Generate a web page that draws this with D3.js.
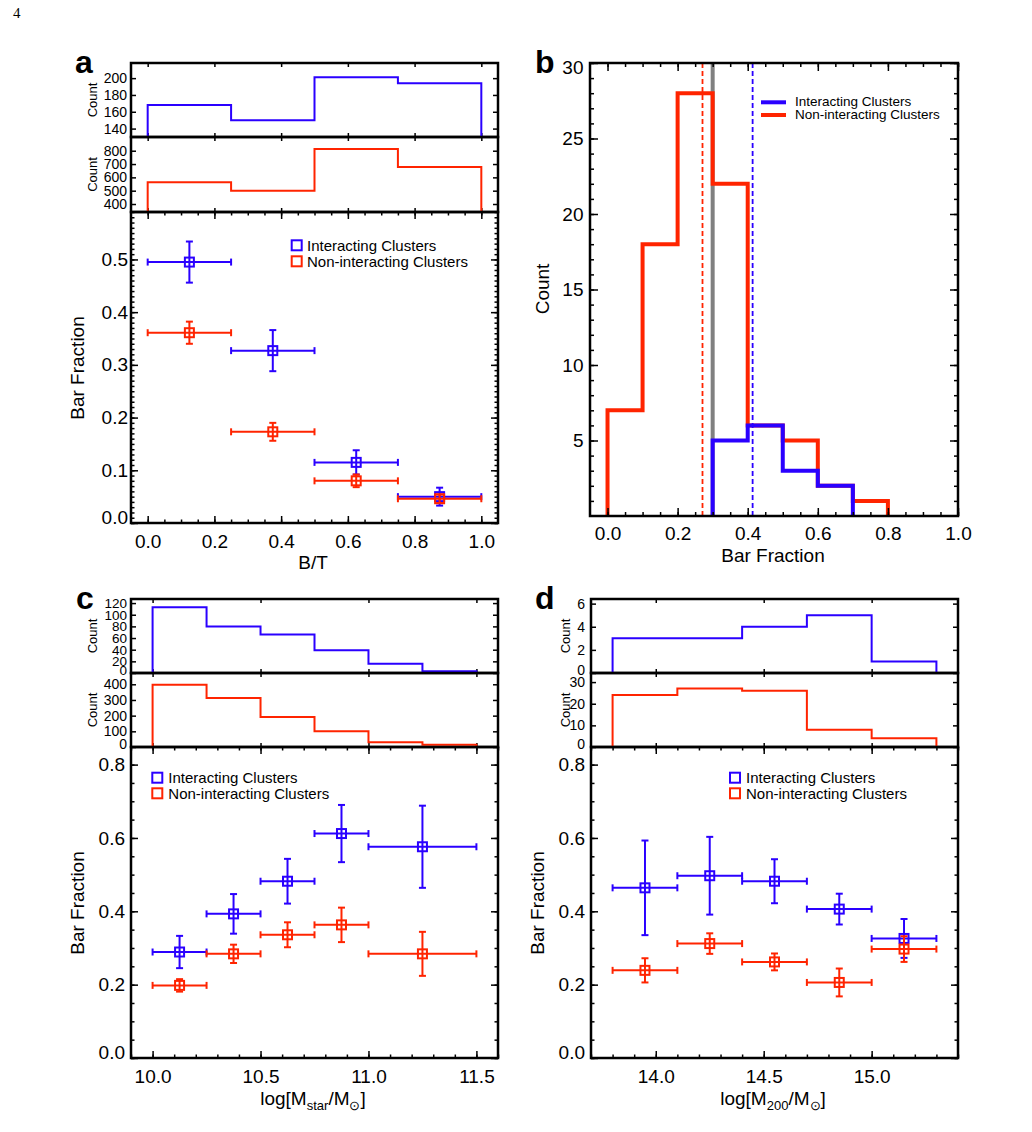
<!DOCTYPE html>
<html>
<head>
<meta charset="utf-8">
<script src="https://cdn.jsdelivr.net/npm/d3@7"></script>
<style>
  body { margin: 0; background: #fff; }
  svg { display: block; }
</style>
</head>
<body>
<div id="chart"></div>
<script>
// ---- panel a : bar fraction vs B/T
const btEdges = [0, 0.25, 0.5, 0.75, 1.0]
const btCountInt = [168, 150, 201, 194]
const btCountNon = [563, 500, 812, 677]
const btFracInt = [0.495, 0.327, 0.115, 0.050]
const btErrInt = [0.039, 0.039, 0.023, 0.017]
const btFracNon = [0.361, 0.173, 0.080, 0.046]
const btErrNon = [0.021, 0.017, 0.012, 0.008]

// ---- panel b : distribution of cluster bar fractions
const bfEdgesNon = [0, 0.1, 0.2, 0.3, 0.4, 0.5, 0.6, 0.7, 0.8]
const bfCountNon = [7, 18, 28, 22, 6, 5, 2, 1]
const bfEdgesInt = [0.3, 0.4, 0.5, 0.6, 0.7]
const bfCountInt = [5, 6, 3, 2]
const bfMeanNon = 0.271
const bfMeanInt = 0.414
const bfRef = 0.3

// ---- panel c : bar fraction vs stellar mass
const msEdges = [10.0, 10.25, 10.5, 10.75, 11.0, 11.25, 11.5]
const msCountInt = [113, 80, 66, 39, 16, 3]
const msCountNon = [397, 313, 191, 100, 30, 15]
const msBinLo = [10.0, 10.25, 10.5, 10.75, 11.0]
const msBinHi = [10.25, 10.5, 10.75, 11.0, 11.5]
const msFracInt = [0.289, 0.393, 0.482, 0.612, 0.576]
const msErrInt = [0.044, 0.054, 0.061, 0.078, 0.112]
const msFracNon = [0.198, 0.284, 0.336, 0.363, 0.284]
const msErrNon = [0.017, 0.025, 0.034, 0.047, 0.060]

// ---- panel d : bar fraction vs halo mass
const mhEdges = [13.8, 14.1, 14.4, 14.7, 15.0, 15.3]
const mhCountInt = [3, 3, 4, 5, 1]
const mhCountNon = [24, 27, 26, 8, 4]
const mhFracInt = [0.464, 0.497, 0.482, 0.406, 0.326]
const mhErrInt = [0.129, 0.106, 0.060, 0.042, 0.053]
const mhFracNon = [0.239, 0.312, 0.262, 0.206, 0.297]
const mhErrNon = [0.033, 0.028, 0.023, 0.038, 0.035]

const legendNames = ["Interacting Clusters", "Non-interacting Clusters"]

const blue = "#2a00ff"
const red = "#ff2400"
const FONT = "'Liberation Sans', Arial, Helvetica, sans-serif"

const svg = d3.select("#chart").append("svg")
  .attr("width", 1032).attr("height", 1132)
  .style("font-family", FONT)

svg.append("text")
  .attr("x", 13).attr("y", 18)
  .attr("font-family", "'Liberation Serif', 'DejaVu Serif', serif")
  .attr("font-size", 15)
  .text("4")

function steps(start, stop, step) {
  const n = Math.round((stop - start) / step)
  return d3.range(n + 1).map(i => +(start + i * step).toFixed(6))
}

function tidy(sel, size) {
  sel.attr("font-family", null).attr("font-size", null)
  sel.select(".domain").remove()
  sel.selectAll(".tick line").attr("stroke", "#000").attr("stroke-width", 1.5)
  sel.selectAll(".tick text").attr("font-size", size).attr("fill", "#000")
}

function axis(g, gen, values, len, fmt, pad, size, tx, ty) {
  const a = g.append("g")
    .attr("transform", `translate(${tx},${ty})`)
    .call(gen.tickValues(values).tickSize(-len).tickPadding(pad || 0).tickFormat(fmt || (() => "")))
  tidy(a, size || 10)
  return a
}

function box(g, x, y, o) {
  const [x0, x1] = x.range()
  const [y1, y0] = y.range()
  if (o.xMinor) {
    axis(g, d3.axisBottom(x), o.xMinor, o.minLen, null, 0, 0, 0, y1)
    axis(g, d3.axisTop(x), o.xMinor, o.minLen, null, 0, 0, 0, y0)
  }
  if (o.yMinor) {
    axis(g, d3.axisLeft(y), o.yMinor, o.minLen, null, 0, 0, x0, 0)
    axis(g, d3.axisRight(y), o.yMinor, o.minLen, null, 0, 0, x1, 0)
  }
  const xa = axis(g, d3.axisBottom(x), o.xMajor, o.majLen, o.xFmt, o.xPad, o.size, 0, y1)
  axis(g, d3.axisTop(x), o.xMajor, o.majLen, null, 0, 0, 0, y0)
  const ya = axis(g, d3.axisLeft(y), o.yMajor, o.yLen || o.majLen, o.yFmt, o.yPad, o.size, x0, 0)
  axis(g, d3.axisRight(y), o.yMajor, o.yLen || o.majLen, null, 0, 0, x1, 0)
  g.append("rect")
    .attr("x", x0).attr("y", y0)
    .attr("width", x1 - x0).attr("height", y1 - y0)
    .attr("fill", "none").attr("stroke", "#000").attr("stroke-width", 2.5)
  return { xa, ya }
}

function vText(g, cx, cy, size, txt) {
  g.append("text")
    .attr("transform", `translate(${cx},${cy}) rotate(-90)`)
    .attr("text-anchor", "middle")
    .attr("dominant-baseline", "central")
    .attr("font-size", size)
    .text(txt)
}

function panelLetter(x, y, txt) {
  svg.append("text")
    .attr("x", x).attr("y", y)
    .attr("font-size", 32).attr("font-weight", "bold")
    .text(txt)
}

// step histogram through d3.line + curveStepAfter
function histPath(g, x, y, edges, counts, color, width, pad) {
  const base = y.domain()[0]
  const pts = [[edges[0], base]]
  counts.forEach((c, i) => pts.push([edges[i], c]))
  pts.push([edges[edges.length - 1], counts[counts.length - 1]])
  pts.push([edges[edges.length - 1], base])
  if (pad) {
    pts.unshift([x.domain()[0], base])
    pts.push([x.domain()[1], base])
  }
  g.append("path")
    .datum(pts)
    .attr("fill", "none")
    .attr("stroke", color)
    .attr("stroke-width", width)
    .attr("stroke-linejoin", "miter")
    .attr("d", d3.line().curve(d3.curveStepAfter).x(d => x(d[0])).y(d => y(d[1])))
}

function histBox(g, x, top, bottom, yDomain, yTicks, edges, counts, color, o) {
  const y = d3.scaleLinear().domain(yDomain).range([bottom, top])
  const r = box(g, x, y, {
    xMajor: o.xMajor, majLen: 4, yLen: 5,
    yMajor: yTicks, yFmt: d3.format("d"), yPad: o.yPad, size: o.size || 14
  })
  r.ya.selectAll(".tick").filter(d => d === yDomain[0]).select("text").attr("y", -3)
  histPath(g, x, y, edges, counts, color, 2, o.pad)
  vText(g, o.countX, (top + bottom) / 2, 13, "Count")
}

function errorPoints(g, x, y, lo, hi, frac, err, color) {
  const pts = frac.map((v, i) => ({ lo: lo[i], hi: hi[i], mid: (lo[i] + hi[i]) / 2, v, e: err[i] }))
  const cap = 3.5
  const s = g.append("g").attr("stroke", color).attr("stroke-width", 2).attr("fill", "none")
  s.selectAll(null).data(pts).join("line")
    .attr("x1", d => x(d.lo)).attr("x2", d => x(d.hi))
    .attr("y1", d => y(d.v)).attr("y2", d => y(d.v))
  s.selectAll(null).data(pts.flatMap(d => [[d.lo, d.v], [d.hi, d.v]])).join("line")
    .attr("x1", d => x(d[0])).attr("x2", d => x(d[0]))
    .attr("y1", d => y(d[1]) - cap).attr("y2", d => y(d[1]) + cap)
  s.selectAll(null).data(pts).join("line")
    .attr("x1", d => x(d.mid)).attr("x2", d => x(d.mid))
    .attr("y1", d => y(d.v - d.e)).attr("y2", d => y(d.v + d.e))
  s.selectAll(null).data(pts.flatMap(d => [[d.mid, d.v - d.e], [d.mid, d.v + d.e]])).join("line")
    .attr("x1", d => x(d[0]) - cap).attr("x2", d => x(d[0]) + cap)
    .attr("y1", d => y(d[1])).attr("y2", d => y(d[1]))
  s.selectAll(null).data(pts).join("rect")
    .attr("x", d => x(d.mid) - 4.5).attr("y", d => y(d.v) - 4.5)
    .attr("width", 9).attr("height", 9)
}

function squareLegend(g, sx, tx, ys) {
  [blue, red].forEach((c, i) => {
    g.append("rect")
      .attr("x", sx - 5).attr("y", ys[i] - 5)
      .attr("width", 10).attr("height", 10)
      .attr("fill", "none").attr("stroke", c).attr("stroke-width", 2)
    g.append("text")
      .attr("x", tx).attr("y", ys[i])
      .attr("dominant-baseline", "central")
      .attr("font-size", 15)
      .text(legendNames[i])
  })
}

function massLabel(g, cx, baseline, sub) {
  const t = g.append("text")
    .attr("x", cx).attr("y", baseline)
    .attr("text-anchor", "middle")
    .attr("font-size", 19)
  t.append("tspan").text("log[M")
  t.append("tspan").attr("font-size", 13).attr("dy", 5).text(sub)
  t.append("tspan").attr("dy", -5).text("/M")
  t.append("tspan").attr("font-size", 13).attr("dy", 5).text("\u2299")
  t.append("tspan").attr("dy", -5).text("]")
}

// ================= panel a =================
{
  const g = svg.append("g")
  const L = 131, R = 498
  const x = d3.scaleLinear().domain([-0.05, 1.05]).range([L, R])
  const xMajor = steps(0, 1, 0.2)
  histBox(g, x, 63, 137, [130, 218], [140, 160, 180, 200], btEdges, btCountInt, blue,
    { xMajor, yPad: 4, countX: 92, pad: false })
  histBox(g, x, 137, 212, [340, 903], [400, 500, 600, 700, 800], btEdges, btCountNon, red,
    { xMajor, yPad: 4, countX: 92, pad: false })

  const y = d3.scaleLinear().domain([0, 0.59]).range([523, 212])
  const r = box(g, x, y, {
    xMajor, xMinor: steps(0, 1, 0.05), yMajor: steps(0, 0.5, 0.1), yMinor: steps(0, 0.59, 0.01),
    majLen: 7, minLen: 3.5, xFmt: d3.format(".1f"), yFmt: d3.format(".1f"),
    xPad: 12, yPad: 3, size: 19
  })
  r.ya.selectAll(".tick").filter(d => d === 0).select("text").attr("y", -6)
  const mid = btEdges.slice(1)
  errorPoints(g, x, y, btEdges.slice(0, -1), mid, btFracInt, btErrInt, blue)
  errorPoints(g, x, y, btEdges.slice(0, -1), mid, btFracNon, btErrNon, red)
  squareLegend(g, 296.7, 307, [245.3, 261.3])
  vText(g, 77, 368, 19, "Bar Fraction")
  g.append("text").attr("x", 313).attr("y", 568.5).attr("text-anchor", "middle")
    .attr("font-size", 19).text("B/T")
  panelLetter(75, 73, "a")
}

// ================= panel b =================
{
  const g = svg.append("g")
  const x = d3.scaleLinear().domain([-0.05, 1.0]).range([590, 958])
  const y = d3.scaleLinear().domain([0, 30]).range([516, 63])
  g.append("line")
    .attr("x1", x(bfRef)).attr("x2", x(bfRef))
    .attr("y1", y(0)).attr("y2", y(30))
    .attr("stroke", "#808080").attr("stroke-width", 4)
  histPath(g, x, y, bfEdgesNon, bfCountNon, red, 4, false)
  histPath(g, x, y, bfEdgesInt, bfCountInt, blue, 4, false)
  ;[[bfMeanNon, red], [bfMeanInt, blue]].forEach(([m, c]) => {
    g.append("line")
      .attr("x1", x(m)).attr("x2", x(m))
      .attr("y1", y(0)).attr("y2", y(30))
      .attr("stroke", c).attr("stroke-width", 1.8)
      .attr("stroke-dasharray", "5,3")
  })
  const r = box(g, x, y, {
    xMajor: steps(0, 1, 0.2), xMinor: steps(0, 1, 0.05),
    yMajor: steps(5, 30, 5), yMinor: steps(1, 30, 1),
    majLen: 8, minLen: 4, xFmt: d3.format(".1f"), yFmt: d3.format("d"),
    xPad: 10.5, yPad: 6.5, size: 19
  })
  r.ya.selectAll(".tick").filter(d => d === 30).select("text").attr("y", 4)
  ;[blue, red].forEach((c, i) => {
    const ly = [102.3, 115][i]
    g.append("line")
      .attr("x1", 761).attr("x2", 786).attr("y1", ly).attr("y2", ly)
      .attr("stroke", c).attr("stroke-width", 4)
    g.append("text")
      .attr("x", 795).attr("y", ly - 0.5)
      .attr("dominant-baseline", "central")
      .attr("font-size", 13.5)
      .text(legendNames[i])
  })
  vText(g, 542, 289, 19, "Count")
  g.append("text").attr("x", 773).attr("y", 562).attr("text-anchor", "middle")
    .attr("font-size", 19).text("Bar Fraction")
  panelLetter(535, 73, "b")
}

// ================= panel c =================
{
  const g = svg.append("g")
  const x = d3.scaleLinear().domain([9.9, 11.6]).range([131, 498])
  const xMajor = [10.0, 10.5, 11.0, 11.5]
  histBox(g, x, 599, 673, [0, 127], steps(0, 120, 20), msEdges, msCountInt, blue,
    { xMajor, yPad: 4, countX: 92, pad: true, size: 13.5 })
  histBox(g, x, 673, 747, [0, 472], steps(0, 400, 100), msEdges, msCountNon, red,
    { xMajor, yPad: 4, countX: 92, pad: true })

  const y = d3.scaleLinear().domain([0, 0.848]).range([1058, 747])
  const r = box(g, x, y, {
    xMajor, xMinor: steps(9.9, 11.6, 0.1), yMajor: steps(0, 0.8, 0.2), yMinor: steps(0, 0.85, 0.05),
    majLen: 7, minLen: 3.5, xFmt: d3.format(".1f"), yFmt: d3.format(".1f"),
    xPad: 12, yPad: 6, size: 19
  })
  r.ya.selectAll(".tick").filter(d => d === 0).select("text").attr("y", -6)
  errorPoints(g, x, y, msBinLo, msBinHi, msFracInt, msErrInt, blue)
  errorPoints(g, x, y, msBinLo, msBinHi, msFracNon, msErrNon, red)
  squareLegend(g, 157.3, 168.3, [777.7, 793.3])
  vText(g, 77, 903, 19, "Bar Fraction")
  massLabel(g, 313, 1105, "star")
  panelLetter(76, 609, "c")
}

// ================= panel d =================
{
  const g = svg.append("g")
  const x = d3.scaleLinear().domain([13.7, 15.4]).range([591, 958])
  const xMajor = [14.0, 14.5, 15.0]
  histBox(g, x, 599, 673, [0, 6.4], [0, 2, 4, 6], mhEdges, mhCountInt, blue,
    { xMajor, yPad: 6, countX: 565, pad: true })
  histBox(g, x, 673, 747, [0, 34.2], [0, 10, 20, 30], mhEdges, mhCountNon, red,
    { xMajor, yPad: 6, countX: 565, pad: true })

  const y = d3.scaleLinear().domain([0, 0.848]).range([1058, 747])
  const r = box(g, x, y, {
    xMajor, xMinor: steps(13.7, 15.4, 0.1), yMajor: steps(0, 0.8, 0.2), yMinor: steps(0, 0.85, 0.05),
    majLen: 7, minLen: 3.5, xFmt: d3.format(".1f"), yFmt: d3.format(".1f"),
    xPad: 12, yPad: 6, size: 19
  })
  r.ya.selectAll(".tick").filter(d => d === 0).select("text").attr("y", -6)
  errorPoints(g, x, y, mhEdges.slice(0, -1), mhEdges.slice(1), mhFracInt, mhErrInt, blue)
  errorPoints(g, x, y, mhEdges.slice(0, -1), mhEdges.slice(1), mhFracNon, mhErrNon, red)
  squareLegend(g, 735, 746, [777.7, 793.3])
  vText(g, 537, 903, 19, "Bar Fraction")
  massLabel(g, 773, 1105, "200")
  panelLetter(535, 609, "d")
}
</script>
</body>
</html>
